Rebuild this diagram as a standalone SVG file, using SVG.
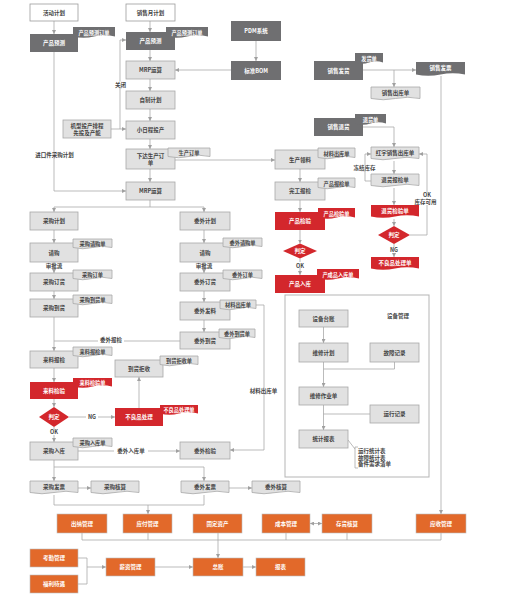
<svg xmlns="http://www.w3.org/2000/svg" width="531" height="600" viewBox="0 0 531 600">
<defs>
<marker id="a" markerWidth="4" markerHeight="4" refX="4" refY="2" orient="auto" markerUnits="userSpaceOnUse"><path d="M0,0 L4,2 L0,4z" fill="#a0a0a0"/></marker>
<marker id="s" markerWidth="4" markerHeight="4" refX="4" refY="2" orient="auto-start-reverse" markerUnits="userSpaceOnUse"><path d="M0,0 L4,2 L0,4z" fill="#a0a0a0"/></marker>
<style>
.lb{fill:#e1e1e1;stroke:#a8a8a8;stroke-width:.8}
.db{fill:#6f6f71}
.rb{fill:#d3272c}
.ob{fill:#e2692a;stroke:#bdbdbd;stroke-width:.6}
.wb{fill:#fff;stroke:#9c9c9c;stroke-width:.8}
.pn{fill:none;stroke:#b5b5b5;stroke-width:1}
.ln{fill:none;stroke:#a9a9a9;stroke-width:.8}
.ar{marker-end:url(#a)}
.bi{marker-start:url(#s);marker-end:url(#s)}
text{font-family:"Noto Sans CJK SC","Noto Sans",sans-serif;font-size:5.5px;font-weight:bold;text-anchor:middle;dominant-baseline:central;fill:#444}
.w{fill:#fff}
.s{font-size:5.2px}
.l{text-anchor:start}
.bg{fill:#fff}
</style>
</defs>
<rect width="531" height="600" fill="#fff"/>

<g id="connectors">
<path class="ln ar" d="M54,21V34"/>
<path class="ln ar" d="M150,21V32"/>
<path class="ln ar" d="M150,50V61"/>
<path class="ln ar" d="M150,79V91"/>
<path class="ln ar" d="M150,109V121"/>
<path class="ln ar" d="M150,139V149"/>
<path class="ln ar" d="M150,169V182"/>
<path class="ln ar" d="M111,129H126"/>
<path class="ln ar" d="M120,129V40H126"/>
<path class="ln ar" d="M54,52V191H126"/>
<path class="ln ar" d="M256,41V61"/>
<path class="ln ar" d="M231,70H175"/>
<path class="ln" d="M150,200V207M54,207H204"/>
<path class="ln ar" d="M54,207V212"/>
<path class="ln ar" d="M204,207V212"/>
<path class="ln ar" d="M175,160H275"/>
<path class="ln ar" d="M300,169V182"/>
<path class="ln ar" d="M300,200V212"/>
<path class="ln ar" d="M300,230V243.5"/>
<path class="ln ar" d="M300,258.5V275"/>
<path class="ln ar" d="M54,230V243"/>
<path class="ln ar" d="M54,262V273"/>
<path class="ln ar" d="M54,291V299"/>
<path class="ln ar" d="M54,317V351"/>
<path class="ln ar" d="M54,368V382"/>
<path class="ln ar" d="M54,399V407"/>
<path class="ln ar" d="M54,427V442"/>
<path class="ln" d="M180,341H54"/>
<path class="ln ar" d="M69,417H115"/>
<path class="ln ar" d="M139,408V377"/>
<path class="ln ar" d="M204,230V243"/>
<path class="ln ar" d="M204,262V273"/>
<path class="ln ar" d="M204,291V302"/>
<path class="ln ar" d="M204,320V332"/>
<path class="ln ar" d="M256,305H264V450H230"/>
<path class="ln ar" d="M78,451H180"/>
<path class="ln ar" d="M54,460V481"/>
<path class="ln ar" d="M54,467H204V481"/>
<path class="ln ar" d="M78,488H91"/>
<path class="ln ar" d="M229,488H252"/>
<path class="ln" d="M54,495V505H204V495"/>
<path class="ln ar" d="M148,505V514"/>
<path class="ln" d="M82,533V540H441V533M148,533V540M286,533V540M347,533V540"/>
<path class="ln ar" d="M218,533V558"/>
<path class="ln bi" d="M310,523.5H322"/>
<path class="ln" d="M78,558H87V584H78"/>
<path class="ln ar" d="M87,567H106"/>
<path class="ln ar" d="M155,567H193"/>
<path class="ln ar" d="M243,567H256"/>
<path class="ln ar" d="M363,70H416"/>
<path class="ln ar" d="M394,70V87"/>
<path class="ln ar" d="M441,76V514"/>
<path class="ln ar" d="M363,127H394V147"/>
<path class="ln ar" d="M394,161V174"/>
<path class="ln ar" d="M394,188V205"/>
<path class="ln ar" d="M394,219V226"/>
<path class="ln ar" d="M394,244V257"/>
<path class="ln ar" d="M410,235H427V154H419"/>
<path class="ln ar" d="M371,181H365V154H371"/>
<path class="ln ar" d="M323.5,327V343"/>
<path class="ln ar" d="M323.5,362V387"/>
<path class="ln ar" d="M323.5,405V430"/>
<path class="ln" d="M394.5,362V369H323.5"/>
<path class="ln" d="M370,414H323.5"/>
<path class="ln" d="M348,440L355,449M358,447H355V468H358"/>
<rect class="bg" x="115" y="81.5" width="11" height="6"/><text x="120.5" y="84.5">关闭</text>
<rect class="bg" x="32" y="152" width="45" height="6"/><text x="54.5" y="155">进口件采购计划</text>
<text x="54" y="266">审批流</text>
<text x="204" y="266">审批流</text>
<rect class="bg" x="98" y="337" width="26" height="6"/><text x="111" y="340">委外报检</text>
<rect class="bg" x="86" y="414" width="12" height="6"/><text x="92" y="417">NG</text>
<rect class="bg" x="48" y="429" width="12" height="6"/><text x="54" y="432">OK</text>
<rect class="bg" x="247" y="388" width="33" height="6"/><text x="263.5" y="391">材料出库单</text>
<rect class="bg" x="114" y="448" width="34" height="6"/><text x="131" y="451">委外入库单</text>
<rect class="bg" x="294" y="262" width="12" height="6"/><text x="300" y="265.5">OK</text>
<rect class="bg" x="388" y="247" width="12" height="6"/><text x="394" y="250">NG</text>
<rect class="bg" x="421" y="192" width="12" height="6"/><text x="427" y="195">OK</text>
<rect class="bg" x="412" y="199" width="27" height="6"/><text x="425.5" y="202">库存可用</text>
<rect class="bg" x="351" y="165" width="27" height="6"/><text x="364.5" y="168">冻结库存</text>
</g>

<g id="panel-equipment">
<rect class="pn" x="285" y="295" width="144" height="182"/>
<text x="398" y="316">设备管理</text>
</g>

<g id="n-huodong"><rect class="wb" x="30" y="4" width="48" height="17"/><text x="54" y="12.5">活动计划</text></g>
<g id="n-yuce1"><rect class="db" x="30" y="34" width="48" height="18"/><text class="w" x="54" y="43">产品预测</text>
<path class="db" d="M73,27h42v9.5q-10.5,-2.5 -21,0t-21,0z"/><text class="w s" x="94" y="32">产品预测订单</text></g>
<g id="n-xiaoshouyue"><rect class="wb" x="126" y="4" width="49" height="17"/><text x="150.5" y="12.5">销售月计划</text></g>
<g id="n-yuce2"><rect class="db" x="126" y="32" width="49" height="18"/><text class="w" x="150.5" y="41">产品预测</text>
<path class="db" d="M166,27h42v9.5q-10.5,-2.5 -21,0t-21,0z"/><text class="w s" x="187" y="32">产品预测订单</text></g>
<g id="n-mrp1"><rect class="lb" x="126" y="61" width="49" height="18"/><text x="150.5" y="70">MRP运算</text></g>
<g id="n-zizhi"><rect class="lb" x="126" y="91" width="49" height="18"/><text x="150.5" y="100">自制计划</text></g>
<g id="n-xiaorich"><rect class="lb" x="126" y="121" width="49" height="18"/><text x="150.5" y="130">小日程投产</text></g>
<g id="n-jixing"><rect class="lb" x="63" y="120" width="48" height="18"/><text x="87" y="126">机型投产排程</text><text x="87" y="133">先投及产能</text></g>
<g id="n-xiada"><rect class="lb" x="126" y="149" width="49" height="20"/><text x="150.5" y="155.5">下达生产订</text><text x="150.5" y="162.5">单</text>
<path class="lb" d="M168,148h42v8.5q-10.5,-2.5 -21,0t-21,0z"/><text class="s" x="189" y="152.5">生产订单</text></g>
<g id="n-mrp2"><rect class="lb" x="126" y="182" width="49" height="18"/><text x="150.5" y="191">MRP运算</text></g>
<g id="n-pdm"><rect class="db" x="231" y="21" width="50" height="20"/><text class="w" x="256" y="31">PDM系统</text></g>
<g id="n-bom"><rect class="db" x="231" y="61" width="50" height="19"/><text class="w" x="256" y="70.5">标准BOM</text></g>

<g id="n-fahuo"><rect class="db" x="314" y="61" width="49" height="19"/><text class="w" x="338.5" y="70.5">销售发货</text>
<path class="db" d="M355,53h28v9.5q-7,-2.5 -14,0t-14,0z"/><text class="w s" x="369" y="58.5">发货单</text></g>
<g id="n-fapiao"><path class="db" d="M416,62h49v12.5q-12.25,-2.5 -24.5,0t-24.5,0z"/><text class="w" x="440.5" y="68">销售发票</text></g>
<g id="n-chuku"><path class="lb" d="M371,87h49v11.5q-12.25,-2.5 -24.5,0t-24.5,0z"/><text x="395.5" y="93">销售出库单</text></g>
<g id="n-tuihuo"><rect class="db" x="314" y="118" width="49" height="18"/><text class="w" x="338.5" y="127">销售退货</text>
<path class="db" d="M355,114h31v9.5q-7.75,-2.5 -15.5,0t-15.5,0z"/><text class="w s" x="370.5" y="119.5">退货单</text></g>
<g id="n-hongzi"><path class="lb" d="M371,147h48v11.5q-12,-2.5 -24,0t-24,0z"/><text x="395" y="153">红字销售出库单</text></g>
<g id="n-thbaojian"><path class="lb" d="M371,174h48v11.5q-12,-2.5 -24,0t-24,0z"/><text x="395" y="180">退货报检单</text></g>
<g id="n-thjianyan"><path class="rb" d="M371,205h48v11.5q-12,-2.5 -24,0t-24,0z"/><text class="w" x="395" y="211">退货检验单</text></g>
<g id="n-panding3"><polygon class="rb" points="378,235 394,226 410,235 394,244"/><text class="w" x="394" y="235">判定</text></g>
<g id="n-buliang3"><path class="rb" d="M371,257h48v11.5q-12,-2.5 -24,0t-24,0z"/><text class="w" x="395" y="263">不良品处理单</text></g>

<g id="n-lingliao"><rect class="lb" x="275" y="150" width="50" height="19"/><text x="300" y="159.5">生产领料</text>
<path class="lb" d="M318,148h37v9.5q-9.25,-2.5 -18.5,0t-18.5,0z"/><text class="s" x="336.5" y="153">材料出库单</text></g>
<g id="n-wangong"><rect class="lb" x="275" y="182" width="50" height="18"/><text x="300" y="191">完工报检</text>
<path class="lb" d="M318,178h37v9.5q-9.25,-2.5 -18.5,0t-18.5,0z"/><text class="s" x="336.5" y="183">产品报检单</text></g>
<g id="n-chanjian"><rect class="rb" x="275" y="212" width="50" height="18"/><text class="w" x="300" y="221">产品检验</text>
<path class="rb" d="M318,208h37v9.5q-9.25,-2.5 -18.5,0t-18.5,0z"/><text class="w s" x="336.5" y="213">产品检验单</text></g>
<g id="n-panding2"><polygon class="rb" points="283,251 300,243.5 317,251 300,258.5"/><text class="w" x="300" y="251">判定</text></g>
<g id="n-ruku"><rect class="rb" x="275" y="275" width="50" height="18"/><text class="w" x="300" y="284">产品入库</text>
<path class="rb" d="M317,269h42v9.5q-10.5,-2.5 -21,0t-21,0z"/><text class="w s" x="338" y="274">产成品入库单</text></g>

<g id="n-cgjihua"><rect class="lb" x="30" y="212" width="48" height="18"/><text x="54" y="221">采购计划</text></g>
<g id="n-qinggou1"><rect class="lb" x="30" y="243" width="48" height="19"/><text x="54" y="252.5">请购</text>
<path class="lb" d="M73,239h39v8.5q-9.75,-2.5 -19.5,0t-19.5,0z"/><text class="s" x="92.5" y="243.5">采购请购单</text></g>
<g id="n-cgdinghuo"><rect class="lb" x="30" y="273" width="48" height="18"/><text x="54" y="282">采购订货</text>
<path class="lb" d="M73,270h39v8.5q-9.75,-2.5 -19.5,0t-19.5,0z"/><text class="s" x="92.5" y="274.5">采购订单</text></g>
<g id="n-cgdaohuo"><rect class="lb" x="30" y="299" width="48" height="18"/><text x="54" y="308">采购到货</text>
<path class="lb" d="M73,295h39v8.5q-9.75,-2.5 -19.5,0t-19.5,0z"/><text class="s" x="92.5" y="299.5">采购到货单</text></g>
<g id="n-lailiaobj"><rect class="lb" x="30" y="351" width="48" height="17"/><text x="54" y="359.5">来料报检</text>
<path class="lb" d="M73,347h39v8.5q-9.75,-2.5 -19.5,0t-19.5,0z"/><text class="s" x="92.5" y="351.5">来料报检单</text></g>
<g id="n-lailiaojy"><rect class="rb" x="30" y="382" width="48" height="17"/><text class="w" x="54" y="390.5">来料检验</text>
<path class="rb" d="M73,378h39v8.5q-9.75,-2.5 -19.5,0t-19.5,0z"/><text class="w s" x="92.5" y="382.5">来料检验单</text></g>
<g id="n-panding1"><polygon class="rb" points="39,417 54,407 69,417 54,427"/><text class="w" x="54" y="417">判定</text></g>
<g id="n-buliang1"><rect class="rb" x="115" y="408" width="48" height="18"/><text class="w" x="139" y="417">不良品处理</text>
<path class="rb" d="M160,405h38v8.5q-9.5,-2.5 -19,0t-19,0z"/><text class="w s" x="179" y="409.5">不良品处理单</text></g>
<g id="n-jushou"><rect class="lb" x="115" y="360" width="48" height="17"/><text x="139" y="368.5">到货拒收</text>
<path class="lb" d="M160,356h38v8.5q-9.5,-2.5 -19,0t-19,0z"/><text class="s" x="179" y="360.5">到货拒收单</text></g>
<g id="n-cgruku"><rect class="lb" x="30" y="442" width="48" height="18"/><text x="54" y="451">采购入库</text>
<path class="lb" d="M73,438h39v8.5q-9.75,-2.5 -19.5,0t-19.5,0z"/><text class="s" x="92.5" y="442.5">采购入库单</text></g>

<g id="n-wwjihua"><rect class="lb" x="180" y="212" width="50" height="18"/><text x="205" y="221">委外计划</text></g>
<g id="n-qinggou2"><rect class="lb" x="180" y="243" width="50" height="19"/><text x="205" y="252.5">请购</text>
<path class="lb" d="M223,238h39v8.5q-9.75,-2.5 -19.5,0t-19.5,0z"/><text class="s" x="242.5" y="242.5">委外请购单</text></g>
<g id="n-wwdinghuo"><rect class="lb" x="180" y="273" width="50" height="18"/><text x="205" y="282">委外订货</text>
<path class="lb" d="M223,270h39v8.5q-9.75,-2.5 -19.5,0t-19.5,0z"/><text class="s" x="242.5" y="274.5">委外订单</text></g>
<g id="n-wwfaliao"><rect class="lb" x="180" y="302" width="50" height="18"/><text x="205" y="311">委外发料</text>
<path class="lb" d="M220,300h36v8.5q-9,-2.5 -18,0t-18,0z"/><text class="s" x="238" y="304.5">材料出库单</text></g>
<g id="n-wwdaohuo"><rect class="lb" x="180" y="332" width="50" height="17"/><text x="205" y="340.5">委外到货</text>
<path class="lb" d="M219,329h36v8.5q-9,-2.5 -18,0t-18,0z"/><text class="s" x="237" y="333.5">委外到货单</text></g>
<g id="n-wwjianyan"><rect class="lb" x="180" y="442" width="50" height="17"/><text x="205" y="450.5">委外检验</text></g>

<g id="n-cgfapiao"><path class="lb" d="M30,481h48v11.5q-12,-2.5 -24,0t-24,0z"/><text x="54" y="487">采购发票</text></g>
<g id="n-cghesuan"><path class="lb" d="M91,481h48v11.5q-12,-2.5 -24,0t-24,0z"/><text x="115" y="487">采购核算</text></g>
<g id="n-wwfapiao"><path class="lb" d="M181,481h48v11.5q-12,-2.5 -24,0t-24,0z"/><text x="205" y="487">委外发票</text></g>
<g id="n-wwhesuan"><path class="lb" d="M252,481h48v11.5q-12,-2.5 -24,0t-24,0z"/><text x="276" y="487">委外核算</text></g>

<g id="n-chuna"><rect class="ob" x="57" y="514" width="50" height="19"/><text class="w" x="82" y="523.5">出纳管理</text></g>
<g id="n-yingfu"><rect class="ob" x="123" y="514" width="49" height="19"/><text class="w" x="147.5" y="523.5">应付管理</text></g>
<g id="n-guding"><rect class="ob" x="193" y="514" width="49" height="19"/><text class="w" x="217.5" y="523.5">固定资产</text></g>
<g id="n-chengben"><rect class="ob" x="262" y="514" width="48" height="19"/><text class="w" x="286" y="523.5">成本管理</text></g>
<g id="n-cunhuo"><rect class="ob" x="322" y="514" width="50" height="19"/><text class="w" x="347" y="523.5">存货核算</text></g>
<g id="n-yingshou"><rect class="ob" x="416" y="514" width="50" height="19"/><text class="w" x="441" y="523.5">应收管理</text></g>
<g id="n-kaoqin"><rect class="ob" x="30" y="549" width="48" height="18"/><text class="w" x="54" y="558">考勤管理</text></g>
<g id="n-fuli"><rect class="ob" x="30" y="575" width="48" height="18"/><text class="w" x="54" y="584">福利待遇</text></g>
<g id="n-xinzi"><rect class="ob" x="106" y="558" width="49" height="18"/><text class="w" x="130.5" y="567">薪资管理</text></g>
<g id="n-zongzhang"><rect class="ob" x="193" y="558" width="50" height="18"/><text class="w" x="218" y="567">总账</text></g>
<g id="n-baobiao"><rect class="ob" x="256" y="558" width="49" height="18"/><text class="w" x="280.5" y="567">报表</text></g>

<g id="n-taizhang"><rect class="lb" x="299" y="310" width="49" height="17"/><text x="323.5" y="318.5">设备台账</text></g>
<g id="n-weixiujh"><rect class="lb" x="299" y="343" width="49" height="19"/><text x="323.5" y="352.5">维修计划</text></g>
<g id="n-weixiuzy"><rect class="lb" x="299" y="387" width="49" height="18"/><text x="323.5" y="396">维修作业单</text></g>
<g id="n-tongji"><rect class="lb" x="299" y="430" width="49" height="18"/><text x="323.5" y="439">统计报表</text></g>
<g id="n-guzhang"><rect class="lb" x="370" y="343" width="49" height="19"/><text x="394.5" y="352.5">故障记录</text></g>
<g id="n-yunxing"><rect class="lb" x="370" y="405" width="49" height="18"/><text x="394.5" y="414">运行记录</text></g>
<g id="n-note"><text class="l" x="358" y="451">运行统计表</text><text class="l" x="358" y="457.5">故障统计表</text><text class="l" x="358" y="464">备件需求清单</text></g>
</svg>
